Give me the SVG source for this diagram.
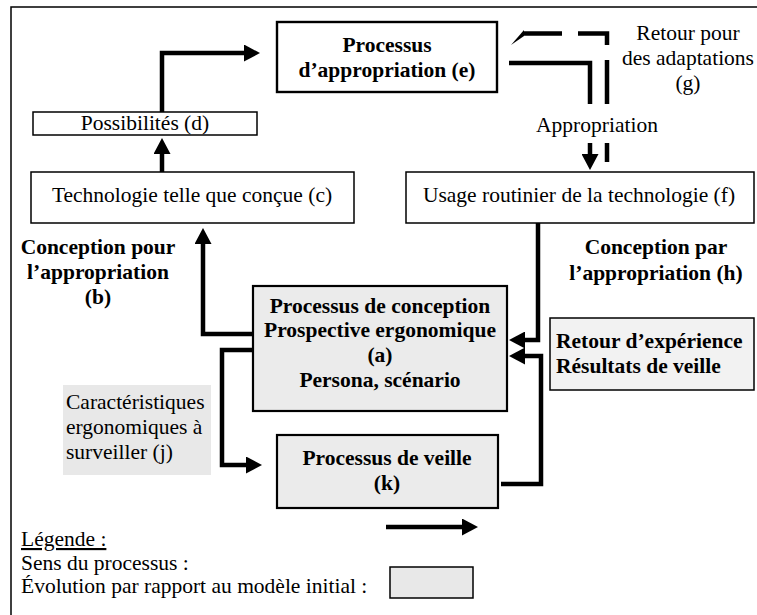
<svg xmlns="http://www.w3.org/2000/svg" width="757" height="615" viewBox="0 0 757 615">
<defs>
<marker id="ah" markerUnits="userSpaceOnUse" markerWidth="16" markerHeight="17" refX="6" refY="8.5" orient="auto"><path d="M0,0 L16,8.5 L0,17 z" fill="#000"/></marker>
</defs>
<style>
.t{font-family:"Liberation Serif","Times New Roman",serif;font-size:21.5px;fill:#000}
.b{font-weight:bold}
.m{text-anchor:middle}
.box{fill:#fff;stroke:#000;stroke-width:1.5}
.g{fill:#ebebeb;stroke:#000;stroke-width:2.2}
.c{fill:none;stroke:#000;stroke-width:4.5;stroke-linejoin:miter}
</style>
<rect x="11" y="7" width="800" height="700" fill="none" stroke="#000" stroke-width="1.5"/>

<g id="node-e">
<rect x="277" y="22" width="220" height="70" fill="#fff" stroke="#000" stroke-width="2.4"/>
<text class="t b m" x="387" y="52">Processus</text>
<text class="t b m" x="387" y="77">d’appropriation (e)</text>
</g>
<g id="node-g">
<text class="t m" x="688" y="40">Retour pour</text>
<text class="t m" x="688" y="65">des adaptations</text>
<text class="t m" x="688" y="90">(g)</text>
</g>
<g id="node-d">
<rect class="box" x="33" y="112" width="224" height="23"/>
<text class="t m" x="145" y="130">Possibilités (d)</text>
</g>
<g id="node-c">
<rect class="box" x="31" y="172" width="323" height="51"/>
<text class="t m" x="192" y="202">Technologie telle que conçue (c)</text>
</g>
<g id="node-f">
<rect class="box" x="406" y="172" width="348" height="51"/>
<text class="t m" x="579" y="202">Usage routinier de la technologie (f)</text>
</g>
<g id="label-appropriation">
<text class="t m" x="597" y="132">Appropriation</text>
</g>
<g id="label-b">
<text class="t b m" x="98" y="254">Conception pour</text>
<text class="t b m" x="98" y="279">l’appropriation</text>
<text class="t b m" x="98" y="304">(b)</text>
</g>
<g id="label-h">
<text class="t b m" x="656" y="254">Conception par</text>
<text class="t b m" x="656" y="280">l’appropriation (h)</text>
</g>
<g id="node-a">
<rect class="g" x="253" y="286" width="254" height="125"/>
<text class="t b m" x="380" y="313">Processus de conception</text>
<text class="t b m" x="380" y="337">Prospective ergonomique</text>
<text class="t b m" x="380" y="362">(a)</text>
<text class="t b m" x="380" y="387">Persona, scénario</text>
</g>
<g id="node-retour">
<rect x="550" y="318" width="204" height="72" fill="#f2f2f2" stroke="#000" stroke-width="1.5"/>
<text class="t b" x="556" y="348">Retour d’expérience</text>
<text class="t b" x="556" y="373">Résultats de veille</text>
</g>
<g id="node-j">
<rect x="63" y="385" width="148" height="90" fill="#e8e8e8"/>
<text class="t" x="66" y="409">Caractéristiques</text>
<text class="t" x="66" y="434">ergonomiques à</text>
<text class="t" x="66" y="459">surveiller (j)</text>
</g>
<g id="node-k">
<rect class="g" x="277" y="435" width="221" height="73"/>
<text class="t b m" x="387" y="465">Processus de veille</text>
<text class="t b m" x="387" y="490">(k)</text>
</g>

<g id="connectors">
<path class="c" d="M162,172 L162,148" marker-end="url(#ah)"/>
<path class="c" d="M162,112 L162,53 L250,53" marker-end="url(#ah)"/>
<path class="c" d="M509,63 L590,63 L590,104"/>
<path class="c" d="M590,143 L590,160" marker-end="url(#ah)"/>
<path class="c" d="M523,33.5 L562,33.5 M578,33.5 L607,33.5 L607,45 M607,60 L607,104 M607,143 L607,162"/>
<polygon points="511,45 524,30 524,36" fill="#000"/>
<path class="c" d="M253,334 L203,334 L203,238" marker-end="url(#ah)"/>
<path class="c" d="M253,350 L222,350 L222,465 L252,465" marker-end="url(#ah)"/>
<path class="c" d="M538,223 L538,340 L519,340" marker-end="url(#ah)"/>
<path class="c" d="M501,484 L541,484 L541,356 L519,356" marker-end="url(#ah)"/>
</g>

<g id="legend">
<text class="t" x="21" y="546" text-decoration="underline">Légende :</text>
<text class="t" x="21" y="570">Sens du processus :</text>
<text class="t" x="21" y="593">Évolution par rapport au modèle initial :</text>
<path class="c" d="M386,527 L468,527" marker-end="url(#ah)"/>
<rect x="390" y="567" width="83" height="31" fill="#e8e8e8" stroke="#000" stroke-width="1.5"/>
</g>
</svg>
